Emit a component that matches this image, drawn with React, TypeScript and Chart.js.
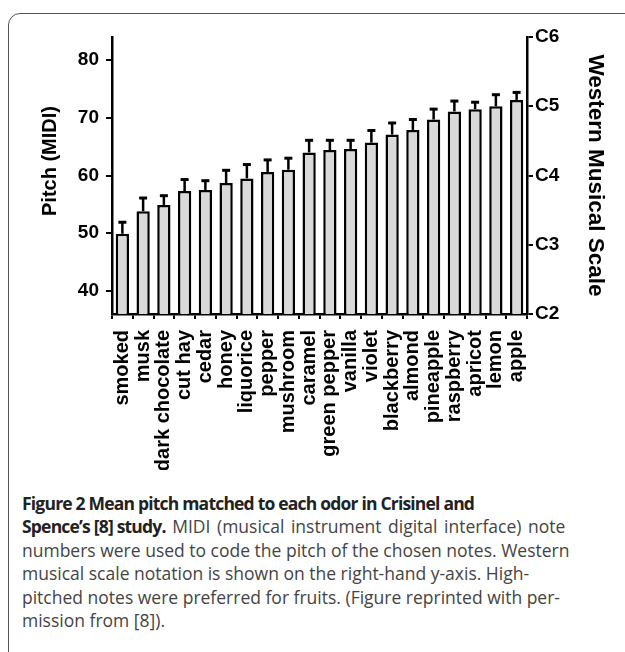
import React, { useEffect, useRef } from "react";
import { Chart, registerables } from "chart.js";

Chart.register(...registerables);

const odors = [
  "smoked", "musk", "dark chocolate", "cut hay", "cedar", "honey", "liquorice",
  "pepper", "mushroom", "caramel", "green pepper", "vanilla", "violet",
  "blackberry", "almond", "pineapple", "raspberry", "apricot", "lemon", "apple",
];
const meanPitch = [
  49.9, 53.8, 54.9, 57.3, 57.5, 58.7, 59.5, 60.6, 61.0, 64.0,
  64.4, 64.6, 65.7, 67.1, 67.9, 69.7, 71.1, 71.5, 72.0, 73.1,
];
const errorPitch = [
  2.0, 2.3, 1.6, 2.0, 1.6, 2.2, 2.4, 2.1, 2.0, 2.1,
  1.7, 1.5, 2.1, 2.0, 1.8, 1.8, 1.8, 1.2, 2.0, 1.3,
];
const leftTicks = [40, 50, 60, 70, 80];
const rightTicks = [36, 48, 60, 72, 84];
const noteNames = ["C2", "C3", "C4", "C5", "C6"];
const leftTitle = "Pitch (MIDI)";
const rightTitle = "Western Musical Scale";

const FONT = 'Arial, "Liberation Sans", Helvetica, sans-serif';

const errorBarPlugin = {
  id: "errorBars",
  afterDatasetsDraw(chart: any) {
    const { ctx, scales } = chart;
    const xs = scales.x;
    const ys = scales.y;
    ctx.save();
    ctx.strokeStyle = "#000";
    meanPitch.forEach((m, i) => {
      const x = xs.getPixelForValue(i);
      const y0 = ys.getPixelForValue(m);
      const y1 = ys.getPixelForValue(m + errorPitch[i]);
      ctx.lineWidth = 2.5;
      ctx.beginPath();
      ctx.moveTo(x, y0);
      ctx.lineTo(x, y1);
      ctx.stroke();
      ctx.lineWidth = 3;
      ctx.beginPath();
      ctx.moveTo(x - 4, y1);
      ctx.lineTo(x + 4, y1);
      ctx.stroke();
    });
    ctx.restore();
  },
};

const leftTitlePlugin = {
  id: "leftTitle",
  afterDraw(chart: any) {
    const { ctx } = chart;
    ctx.save();
    ctx.translate(50, 161);
    ctx.rotate(-Math.PI / 2);
    ctx.fillStyle = "#000";
    ctx.font = `bold 20px ${FONT}`;
    ctx.textAlign = "center";
    ctx.textBaseline = "middle";
    ctx.fillText(leftTitle, 0, 0);
    ctx.restore();
  },
};

function PitchChart() {
  const ref = useRef<HTMLCanvasElement>(null);
  useEffect(() => {
    if (!ref.current) return;
    const axisGrid = {
      display: true,
      drawOnChartArea: false,
      drawTicks: true,
      tickLength: 6,
      color: "#000",
      lineWidth: 2,
    };
    const chart = new Chart(ref.current, {
      type: "bar",
      data: {
        labels: odors,
        datasets: [
          {
            data: meanPitch,
            backgroundColor: "#d9d9d9",
            borderColor: "#000",
            borderWidth: 2.5,
            borderSkipped: false,
            barPercentage: 0.64,
            categoryPercentage: 1,
            yAxisID: "y",
          },
        ],
      },
      options: {
        responsive: false,
        animation: false,
        devicePixelRatio: 1,
        layout: { padding: { top: 37, left: 0, right: 0, bottom: 0 } },
        plugins: { legend: { display: false }, tooltip: { enabled: false } },
        scales: {
          x: {
            type: "category",
            offset: true,
            grid: { ...axisGrid, tickLength: 5 },
            border: { display: true, color: "#000", width: 2.5 },
            ticks: {
              autoSkip: false,
              minRotation: 90,
              maxRotation: 90,
              padding: 11,
              color: "#000",
              font: { family: FONT, size: 20, weight: "bold" },
            },
            afterFit: (s: any) => {
              s.height = 156;
            },
          },
          y: {
            position: "left",
            min: 36,
            max: 84,
            grid: axisGrid,
            border: { display: true, color: "#000", width: 2.5 },
            afterBuildTicks: (s: any) => {
              s.ticks = leftTicks.map((v) => ({ value: v }));
            },
            ticks: {
              padding: 7,
              color: "#000",
              font: { family: FONT, size: 19, weight: "bold" },
            },
            afterFit: (s: any) => {
              s.width = 112;
            },
          },
          y2: {
            position: "right",
            min: 36,
            max: 84,
            grid: axisGrid,
            border: { display: true, color: "#000", width: 2.5 },
            afterBuildTicks: (s: any) => {
              s.ticks = rightTicks.map((v) => ({ value: v }));
            },
            ticks: {
              padding: 2,
              color: "#000",
              font: { family: FONT, size: 19, weight: "bold" },
              callback: (v: any) => noteNames[rightTicks.indexOf(Number(v))],
            },
            title: {
              display: true,
              text: rightTitle,
              color: "#000",
              font: { family: FONT, size: 22.5, weight: "bold" },
              padding: { top: 16, bottom: 0 },
            },
            afterFit: (s: any) => {
              s.width = 98;
            },
          },
        },
      },
      plugins: [errorBarPlugin, leftTitlePlugin],
    } as any);
    return () => chart.destroy();
  }, []);
  return (
    <canvas
      ref={ref}
      width={625}
      height={470}
      style={{ position: "absolute", left: 0, top: 0, width: 625, height: 470 }}
    />
  );
}

export default function App() {
  const bold = { fontWeight: 700, color: "#222", letterSpacing: "-0.8px" };
  return (
    <div
      style={{
        position: "fixed",
        left: 0,
        top: 0,
        width: 625,
        height: 652,
        overflow: "hidden",
        background: "#fff",
      }}
    >
      <div
        style={{
          position: "absolute",
          left: 8,
          top: 13,
          width: 700,
          height: 700,
          border: "1.5px solid #555",
          borderTopLeftRadius: 12,
        }}
      />
      <PitchChart />
      <div
        style={{
          position: "absolute",
          left: 22,
          top: 492,
          fontFamily: '"Open Sans", sans-serif',
          fontSize: 17.5,
          lineHeight: "23.4px",
          color: "#444",
          whiteSpace: "nowrap",
        }}
      >
        <span style={bold}>Figure 2 Mean pitch matched to each odor in Crisinel and</span>
        <br />
        <span style={bold}>Spence’s [8] study.</span>
        <span style={{ wordSpacing: "2px" }}> MIDI (musical instrument digital interface) note</span>
        <br />
        numbers were used to code the pitch of the chosen notes. Western
        <br />
        musical scale notation is shown on the right-hand y-axis. High-
        <br />
        pitched notes were preferred for fruits. (Figure reprinted with per-
        <br />
        mission from [8]).
      </div>
    </div>
  );
}
